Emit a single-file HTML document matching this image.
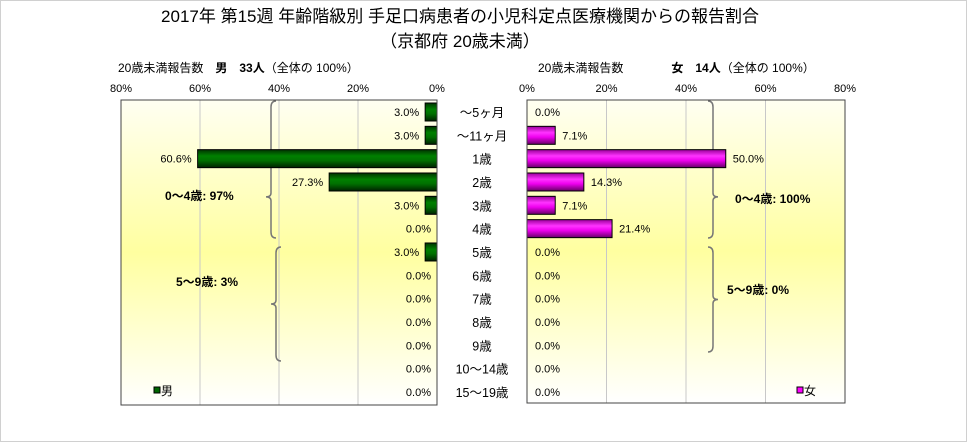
<!DOCTYPE html>
<html><head><meta charset="utf-8"><style>
body{margin:0;background:#fff;}
svg text{font-family:"Liberation Sans","Noto Sans CJK JP",sans-serif;}
</style></head><body>
<svg id="c" width="968" height="443" xmlns="http://www.w3.org/2000/svg">
<defs>
<linearGradient id="bg" x1="0" y1="0" x2="0" y2="1">
<stop offset="0" stop-color="#fffff2"/><stop offset="0.5" stop-color="#ffffa0"/><stop offset="1" stop-color="#ffffff"/>
</linearGradient>
<linearGradient id="gr" x1="0" y1="0" x2="0" y2="1">
<stop offset="0" stop-color="#003300"/><stop offset="0.35" stop-color="#008000"/><stop offset="0.6" stop-color="#007000"/><stop offset="1" stop-color="#002200"/>
</linearGradient>
<linearGradient id="mg" x1="0" y1="0" x2="0" y2="1">
<stop offset="0" stop-color="#990099"/><stop offset="0.35" stop-color="#ff33ff"/><stop offset="0.6" stop-color="#ee00ee"/><stop offset="1" stop-color="#660066"/>
</linearGradient>
</defs>
<rect x="0.5" y="0.5" width="966" height="441" fill="#fff" stroke="#d0d0d0"/>
<text x="460" y="22" font-size="17" text-anchor="middle">2017年 第15週 年齢階級別 手足口病患者の小児科定点医療機関からの報告割合</text>
<text x="460" y="47" font-size="17" text-anchor="middle">（京都府 20歳未満）</text>
<text x="118" y="72" font-size="12">20歳未満報告数　<tspan font-weight="bold">男　33人</tspan>（全体の 100%）</text>
<text x="538" y="72" font-size="12">20歳未満報告数　　　　<tspan font-weight="bold">女　14人</tspan>（全体の 100%）</text>
<g id="g"></g>
</svg>
<script>
const categories=["～5ヶ月","～11ヶ月","1歳","2歳","3歳","4歳","5歳","6歳","7歳","8歳","9歳","10～14歳","15～19歳"];
const maleValues=[3.0,3.0,60.6,27.3,3.0,0.0,3.0,0.0,0.0,0.0,0.0,0.0,0.0];
const femaleValues=[0.0,7.1,50.0,14.3,7.1,21.4,0.0,0.0,0.0,0.0,0.0,0.0,0.0];
const tickValues=[0,20,40,60,80];
const tickLabels=["0%","20%","40%","60%","80%"];
const NS="http://www.w3.org/2000/svg";
const g=document.getElementById('g');
const L={x0:437,x1:121,top:100,bot:405};
const R={x0:527,x1:845,top:100,bot:403};
const scale=80;
function xL(v){return L.x0-(L.x0-L.x1)*v/scale;}
function xR(v){return R.x0+(R.x1-R.x0)*v/scale;}
const rowTop=112, rowStep=23.33;
function yC(i){return rowTop+i*rowStep;}
function el(t,a,p){const e=document.createElementNS(NS,t);for(const k in a)e.setAttribute(k,a[k]);(p||g).appendChild(e);return e;}
let e;
e=el('rect',{x:L.x1,y:L.top,width:L.x0-L.x1,height:L.bot-L.top,fill:'url(#bg)'});


e=el('rect',{x:R.x0,y:R.top,width:R.x1-R.x0,height:R.bot-R.top,fill:'url(#bg)'});


tickValues.forEach((v,i)=>{
  if(v>0&&v<80){
    e=el('line',{x1:xL(v),x2:xL(v),y1:L.top,y2:L.bot,stroke:'#c8c8c8'});
    
    
    e=el('line',{x1:xR(v),x2:xR(v),y1:R.top,y2:R.bot,stroke:'#c8c8c8'});
    
    
  }
  e=el('text',{x:xL(v),y:92,'font-size':11,'text-anchor':'middle'});e.textContent=tickLabels[i];
  
  
  e=el('text',{x:xR(v),y:92,'font-size':11,'text-anchor':'middle'});e.textContent=tickLabels[i];
  
  
});
function brace(x,y1,y2,dir,name){
  const m=(y1+y2)/2+ (name.indexOf('0-4')>=0?(y2-y1)*0.2:0);
  const d=`M${x+5*dir},${y1} Q${x},${y1} ${x},${y1+6} L${x},${m-4} Q${x},${m} ${x-5*dir},${m} Q${x},${m} ${x},${m+4} L${x},${y2-6} Q${x},${y2} ${x+5*dir},${y2}`;
  const p=el('path',{d:d,fill:'none',stroke:'#777','stroke-width':1.5});
  
  
}
brace(271,101,238,1,'male-0-4-bracket');
brace(276,247,361,1,'male-5-9-bracket');
brace(713,101,238,-1,'female-0-4-bracket');
brace(713,247,352,-1,'female-5-9-bracket');
function lab(x,y,t,n){const e=el('text',{x:x,y:y,'font-size':12,'font-weight':'bold'});e.textContent=t;
  
  }
lab(165,200,'0～4歳: 97%','male-0-4-label');
lab(176,286,'5～9歳: 3%','male-5-9-label');
lab(735,203,'0～4歳: 100%','female-0-4-label');
lab(727,294,'5～9歳: 0%','female-5-9-label');
const bh=18;
categories.forEach((c,i)=>{
  const y=yC(i);
  let t=el('text',{x:482,y:y+5,'font-size':12.5,'text-anchor':'middle'});t.textContent=c;
  
  
  const mv=maleValues[i];
  if(mv>0){
    const r=el('rect',{x:xL(mv),y:y-bh/2,width:L.x0-xL(mv),height:bh,fill:'url(#gr)',stroke:'#000','stroke-width':1});
    
    
  }
  t=el('text',{x:xL(mv)-6,y:y+4,'font-size':11,'text-anchor':'end'});t.textContent=mv.toFixed(1)+'%';
  
  
  const fv=femaleValues[i];
  if(fv>0){
    const r=el('rect',{x:R.x0,y:y-bh/2,width:xR(fv)-R.x0,height:bh,fill:'url(#mg)',stroke:'#000','stroke-width':1});
    
    
  }
  t=el('text',{x:xR(fv)+(fv>0?7:8),y:y+4,'font-size':11});t.textContent=fv.toFixed(1)+'%';
  
  
});
e=el('rect',{x:L.x1,y:L.top,width:L.x0-L.x1,height:L.bot-L.top,fill:'none',stroke:'#444'});


e=el('rect',{x:R.x0,y:R.top,width:R.x1-R.x0,height:R.bot-R.top,fill:'none',stroke:'#444'});


e=el('rect',{x:154,y:387,width:6,height:6,fill:'#006600',stroke:'#000'});


e=el('text',{x:161,y:395,'font-size':12});e.textContent='男';


e=el('rect',{x:797,y:387,width:6,height:6,fill:'#ff00ff',stroke:'#000'});


e=el('text',{x:804,y:395,'font-size':12});e.textContent='女';


</script>
</body></html>
